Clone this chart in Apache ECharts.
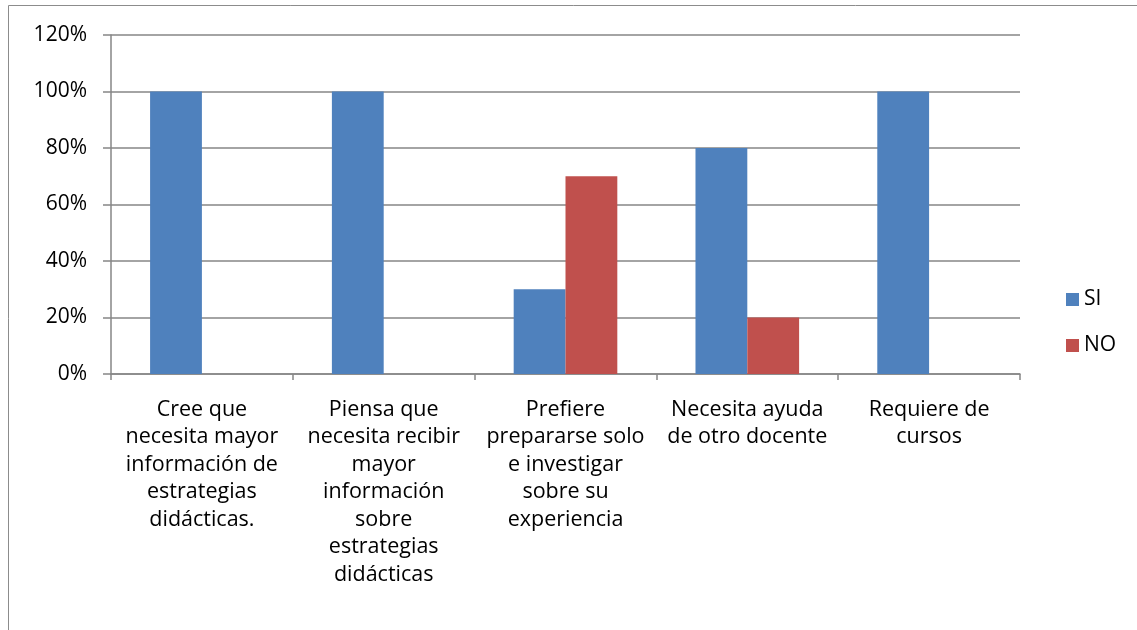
<!DOCTYPE html>
<html>
<head>
<meta charset="utf-8">
<script src="https://cdn.jsdelivr.net/npm/echarts@6/dist/echarts.min.js"></script>
<style>
  html, body { margin: 0; padding: 0; background: #fff; }
  #chart { width: 1137px; height: 630px; }
</style>
</head>
<body>
<div id="chart"></div>
<script>
// categories (line breaks as in the original)
const categories = [
    'Cree que\nnecesita mayor\ninformación de\nestrategias\ndidácticas.',
    'Piensa que\nnecesita recibir\nmayor\ninformación\nsobre\nestrategias\ndidácticas',
    'Prefiere\nprepararse solo\ne investigar\nsobre su\nexperiencia',
    'Necesita ayuda\nde otro docente',
    'Requiere de\ncursos'
];
const siValues = [1.0, 1.0, 0.3, 0.8, 1.0];
const noValues = [null, null, 0.7, 0.2, null];
const seriesNames = ['SI', 'NO'];

let chartDom = document.getElementById('chart'),
    myChart = echarts.init(chartDom),
    option;

const font = '"Open Sans", "Noto Sans", sans-serif';

option = {
    animation: false,
    textStyle: { fontFamily: font },
    graphic: [{
        type: 'rect',
        shape: { x: 8.5, y: 5.5, width: 1140, height: 640 },
        style: { fill: null, stroke: '#8c8c8c', lineWidth: 1 },
        silent: true
    }],
    grid: { left: 111, right: 117, top: 35, bottom: 256 },
    legend: {
        orient: 'vertical',
        left: 1061,
        top: 284,
        itemWidth: 13,
        itemHeight: 13,
        itemGap: 25,
        icon: 'rect',
        textStyle: { fontSize: 21, color: '#000', fontFamily: font },
        data: seriesNames
    },
    xAxis: {
        type: 'category',
        data: categories,
        axisLine: { lineStyle: { color: '#868686', width: 1.5 } },
        axisTick: { show: true, length: 6, lineStyle: { color: '#868686', width: 1.5 } },
        axisLabel: {
            interval: 0,
            margin: 22,
            fontSize: 21.5,
            lineHeight: 27.5,
            color: '#000',
            fontFamily: font
        }
    },
    yAxis: {
        type: 'value',
        min: 0,
        max: 1.2,
        interval: 0.2,
        axisLine: { show: true, lineStyle: { color: '#868686', width: 1.5 } },
        axisTick: { show: true, inside: false, length: 8, lineStyle: { color: '#868686', width: 1.5 } },
        splitLine: { lineStyle: { color: '#868686', width: 1.5 } },
        axisLabel: {
            margin: 24,
            fontSize: 21,
            color: '#000',
            fontFamily: font,
            formatter: v => Math.round(v * 100) + '%'
        }
    },
    series: [
        {
            name: seriesNames[0],
            type: 'bar',
            data: siValues,
            barGap: '0%',
            barCategoryGap: '43%',
            itemStyle: { color: '#4F81BD' }
        },
        {
            name: seriesNames[1],
            type: 'bar',
            data: noValues,
            barGap: '0%',
            barCategoryGap: '43%',
            itemStyle: { color: '#C0504D' }
        }
    ]
};

option && myChart.setOption(option);
</script>
</body>
</html>
